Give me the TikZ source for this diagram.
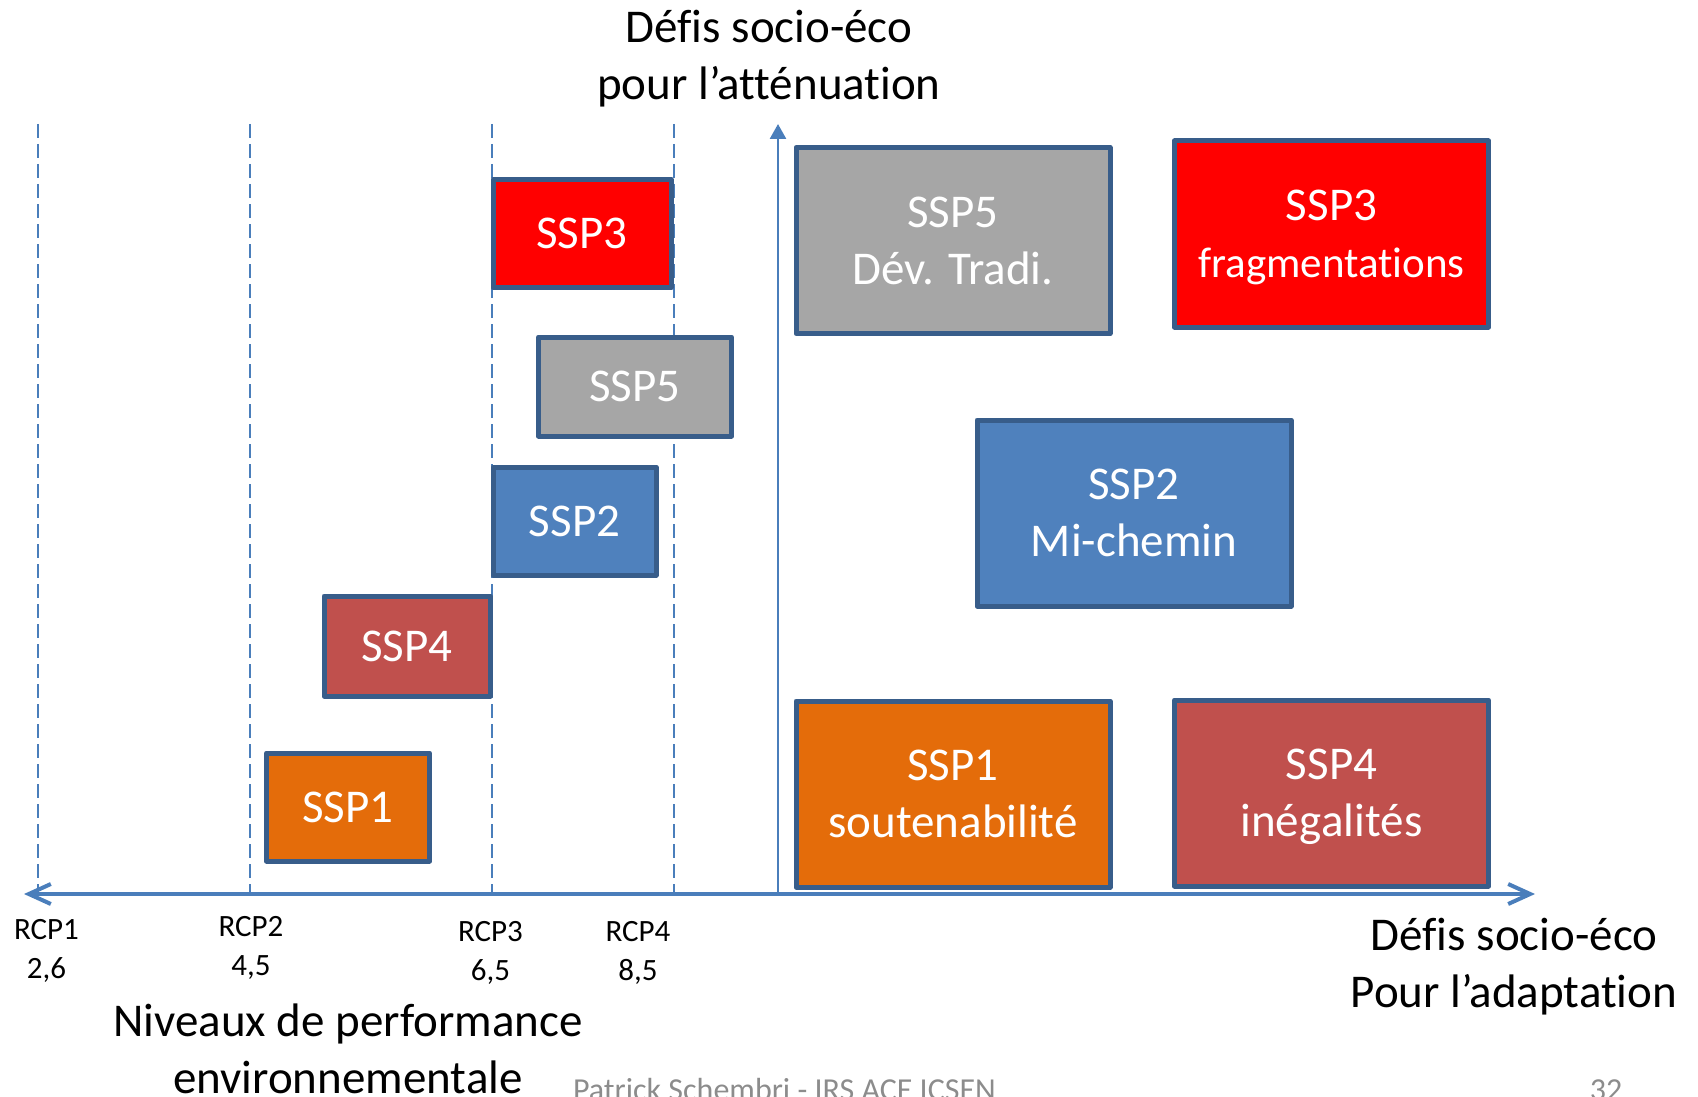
\documentclass[tikz,border=0pt]{standalone}
\usepackage{fontspec}
\setmainfont{Carlito}[Ligatures=NoCommon]
\usetikzlibrary{arrows.meta}
\definecolor{axisblue}{RGB}{74,126,187}
\definecolor{boxline}{RGB}{56,93,138}
\definecolor{sspred}{RGB}{255,0,0}
\definecolor{sspgray}{RGB}{166,166,166}
\definecolor{sspblue}{RGB}{79,129,189}
\definecolor{sspbrick}{RGB}{192,80,77}
\definecolor{ssporange}{RGB}{228,108,10}
\definecolor{footgray}{RGB}{140,140,140}

\begin{document}
\begin{tikzpicture}[x=0.5pt,y=-0.5pt]
			\tikzstyle{ssp} = [draw=boxline,line width=2.5pt,line join=round,text=white,align=center,inner sep=0pt,font=\fontsize{23.5}{28.5}\selectfont]
			\tikzstyle{small} = [minimum width=89pt,minimum height=54pt]
			\tikzstyle{large} = [minimum width=157pt,minimum height=93pt]
			\tikzstyle{big} = [align=center,font=\fontsize{23.5}{28.5}\selectfont]
			\tikzstyle{rcp} = [align=center,font=\fontsize{15.5}{19.5}\selectfont]
			\tikzstyle{guide} = [axisblue,line width=1pt,dash pattern=on 7pt off 3pt]
			\tikzstyle{axis} = [axisblue,line width=2pt]
			
			\clip (0,0) rectangle (1698,1097);
			
			\coordinate (xl) at (24,894);
			\coordinate (xr) at (1535,894);
			\coordinate (o) at (778,894);
			\coordinate (yt) at (778,124);
			
			\coordinate (g1) at (38,124);
			\coordinate (g2) at (250,124);
			\coordinate (g3) at (491.5,124);
			\coordinate (g4) at (673.5,124);
			\path (g1) edge[guide] (g1 |- o);
			\path (g2) edge[guide] (g2 |- o);
			\path (g3) edge[guide] (g3 |- o);
			\path (g4) edge[guide] (g4 |- o);
			
			\node[ssp,small,fill=sspred] (l3) at (582,233.5) {SSP3};
			\node[ssp,small,fill=sspgray,minimum width=96.5pt,minimum height=49.5pt] (l5) at (635,386.5) {SSP5};
			\node[ssp,small,fill=sspblue,minimum width=81.5pt] (l2) at (574.5,521) {SSP2};
			\node[ssp,small,fill=sspbrick,minimum width=83pt,minimum height=50pt] (l4) at (407,646) {SSP4};
			\node[ssp,small,fill=ssporange,minimum width=81.5pt] (l1) at (348,807) {SSP1};
			
			\node[ssp,large,fill=sspgray] (r5) at (953,240.5) {SSP5\\Dév. Tradi.};
			\node[ssp,large,fill=sspred] (r3) at (1331.5,234) {SSP3\\{\fontsize{21.5}{27}\selectfont fra\smash{g}mentations}};
			\node[ssp,large,fill=sspblue] (r2) at (1134,513) {SSP2\\Mi-chemin};
			\node[ssp,large,fill=ssporange] (r1) at (953,794) {SSP1\\soutenabilité};
			\node[ssp,large,fill=sspbrick] (r4) at (1331.5,793) {SSP4\\iné\smash{g}alités};
			
			\path (xl) edge[axis,{Straight Barb[length=11pt,width=10pt]}-{Straight Barb[length=11pt,width=10pt]}] (xr);
			\path (o) edge[axis,line width=1.35pt,-{Triangle[length=7.5pt,width=8pt]}] (yt);
			
			\node[big] (ytitle) at (769,59) {Défis socio-éco\\pour l’atténuation};
			\node[big] (xtitle) at (1514,967) {Défis socio-éco\\Pour l’adaptation};
			\node[big] (perf) at (348,1049) {Niveaux de performance\\environnementale};
			
			\node[rcp] (rcp1) at (46.5,950.5) {RCP1\\2,6};
			\node[rcp] (rcp2) at (251,948) {RCP2\\4,5};
			\node[rcp] (rcp3) at (490.5,952.5) {RCP3\\6,5};
			\node[rcp] (rcp4) at (638,952.5) {RCP4\\8,5};
			
			\node[anchor=base west,text=footgray,font=\fontsize{16}{19}\selectfont] (foot) at (566,1100) {Patrick Schembri - IRS ACE ICSEN};
			\node[anchor=base,text=footgray,font=\fontsize{16}{19}\selectfont] (page) at (1606,1100) {32};
		\end{tikzpicture}
\end{document}
